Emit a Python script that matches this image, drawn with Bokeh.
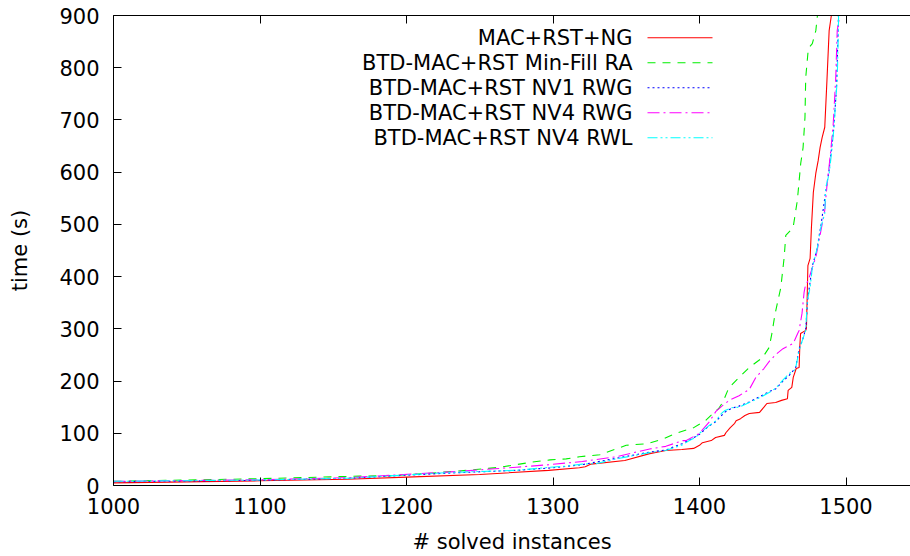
from bokeh.plotting import figure
from bokeh.models import Range1d, LinearAxis, FixedTicker, Label
from bokeh.embed import file_html
from bokeh.resources import INLINE

# ---- data ----
ng_x = [1000, 1050, 1100, 1160, 1200, 1250, 1297, 1318, 1322, 1326, 1349, 1366, 1377, 1388, 1396,
        1400, 1402, 1408, 1411, 1417, 1418, 1421, 1424, 1425, 1428, 1431, 1434, 1441, 1444, 1446,
        1452, 1456, 1460, 1460.5, 1463, 1464, 1466, 1468, 1468.5, 1469, 1472.5, 1473, 1474, 1475.5,
        1476.4, 1477.7, 1479.4, 1481, 1482.3, 1483.7, 1485.5, 1487, 1488.5, 1490, 1490.5]
ng_y = [5, 7, 9, 12, 16, 21, 29, 34, 36, 41, 48, 61, 67, 69, 71,
        77, 82, 86, 92, 96, 101, 111, 119, 124, 128, 134, 138, 140, 150, 157,
        159, 163, 166, 182, 188, 207, 224, 226, 268, 291, 297, 301, 421, 435,
        494, 561, 598, 622, 647, 666, 686, 776, 871, 900, 950]

mf_x = [1000, 1100, 1168, 1191, 1218, 1241, 1264, 1286, 1298, 1309, 1318, 1332, 1350, 1364, 1375,
        1384, 1393, 1395, 1404, 1411, 1413, 1416, 1420, 1427, 1434, 1443, 1447.5, 1449.4, 1451.6,
        1455.5, 1457.8, 1458.9, 1463.9, 1466.8, 1469.1, 1470.7, 1472, 1472.5, 1474.3, 1477, 1479.4,
        1480.5, 1481]
mf_y = [8, 13, 18, 19, 24, 29, 35, 45, 49, 51, 55, 59, 77, 80, 89,
        100, 108, 109, 124, 143, 147, 160, 187, 207, 226, 245, 264, 291, 329,
        379, 437, 479, 494, 546, 617, 647, 705, 781, 837, 846, 871,
        900, 950]

nv1g_x = [1000, 1100, 1161, 1230, 1275, 1300, 1320, 1343, 1366, 1377, 1388, 1395, 1400, 1406, 1411,
          1417, 1422, 1427, 1434, 1441, 1447, 1452, 1457, 1461, 1465.7, 1468, 1470.5, 1472.5, 1474,
          1477, 1480, 1483, 1486, 1488.5, 1491.5, 1493.5, 1494.6, 1495.2]
nv1g_y = [7, 10, 14, 24, 29, 34, 40, 52, 64, 68, 80, 90, 98, 113, 122,
          140, 148, 152, 160, 170, 179, 185, 200, 210, 226, 262, 280, 300, 360,
          420, 450, 500, 560, 605, 680, 760, 870, 950]

nv4g_x = [1000, 1100, 1161, 1230, 1275, 1298, 1320, 1343, 1366, 1377, 1388.5, 1391, 1400, 1406.7,
          1411.2, 1415.7, 1420.3, 1427, 1434, 1438.5, 1444, 1448, 1453, 1457, 1464, 1467, 1468,
          1470, 1471.4, 1472, 1474.8, 1479.4, 1481.6, 1485.5, 1486.9, 1489.6, 1491.3, 1493, 1494,
          1495.7, 1496]
nv4g_y = [8, 11, 15, 26, 35, 40, 46, 55, 70, 75, 86, 86, 100, 122,
          142, 153, 163, 172, 184, 207, 224, 239, 253, 262, 272, 291, 297,
          330, 370, 379, 398, 437, 469, 527, 571, 641, 693, 781, 871,
          900, 950]

nv4l_x = [1000, 1100, 1161, 1230, 1275, 1298, 1309, 1320, 1330, 1343, 1366, 1377, 1388.5, 1393,
          1397.6, 1400, 1406.7, 1411.2, 1415, 1417, 1422, 1427, 1434, 1441, 1447.5, 1452, 1456.6,
          1461, 1464.6, 1465.7, 1468, 1470.2, 1472.5, 1473.6, 1475.5, 1477, 1480.5, 1482.8, 1485.5,
          1486.2, 1488.5, 1490.3, 1491.8, 1493, 1494, 1494.8, 1495.2]
nv4l_y = [8, 10.5, 14, 25, 29, 35, 37, 41, 42, 51, 63, 67, 78, 86,
          92.5, 100, 115, 124, 138, 143, 149, 150, 159, 168, 178, 186, 201,
          214, 220, 226, 258, 278, 297, 354, 379, 417, 456, 494, 521,
          571, 597, 641, 686, 737, 776, 871, 950]

series_names = ["MAC+RST+NG", "BTD-MAC+RST Min-Fill RA", "BTD-MAC+RST NV1 RWG",
                "BTD-MAC+RST NV4 RWG", "BTD-MAC+RST NV4 RWL"]
x_ticks = [1000, 1100, 1200, 1300, 1400, 1500]
y_ticks = [0, 100, 200, 300, 400, 500, 600, 700, 800, 900]

# ---- styling ----
FONT = "DejaVu Sans"
FS = "21px"
colors = ["#ff0000", "#00f000", "#0000ff", "#ff00ff", "#00ffff"]
dashes = ["solid", "8 7", "2 3", "12 4 2 4", "10 3 2 3 2 3"]

W, H = 910, 556
ML, MT, MB = 113, 15, 71
FW, FH = W - ML, H - MT - MB
X0, X1 = 1000, 1000 + FW / 1.465
Y0, Y1 = 0, 900

p = figure(width=W, height=H, x_range=Range1d(X0, X1), y_range=Range1d(Y0, Y1),
           output_backend="svg", toolbar_location=None,
           min_border_left=ML, min_border_right=0, min_border_top=MT, min_border_bottom=MB)
p.outline_line_color = None
p.grid.visible = False
p.background_fill_color = "white"
p.border_fill_color = "white"

for ax in (p.xaxis[0], p.yaxis[0]):
    ax.major_tick_in = 8
    ax.major_tick_out = 0
    ax.minor_tick_line_color = None
    ax.axis_line_color = "black"
    ax.major_tick_line_color = "black"
    ax.major_label_text_font = FONT
    ax.major_label_text_font_size = FS
    ax.major_label_text_color = "black"
    ax.axis_label_text_font = FONT
    ax.axis_label_text_font_size = FS
    ax.axis_label_text_font_style = "normal"
    ax.axis_label_text_color = "black"

p.xaxis[0].ticker = FixedTicker(ticks=x_ticks)
p.yaxis[0].ticker = FixedTicker(ticks=y_ticks)
p.xaxis[0].major_label_standoff = 12
p.xaxis[0].axis_label = "# solved instances"
p.xaxis[0].axis_label_standoff = 13
p.yaxis[0].major_label_standoff = 14
p.yaxis[0].axis_label = "time (s)"
p.yaxis[0].axis_label_standoff = 24

top = LinearAxis(ticker=FixedTicker(ticks=x_ticks), major_tick_in=8, major_tick_out=0,
                 minor_tick_line_color=None, major_label_standoff=0,
                 major_label_overrides={t: "" for t in x_ticks},
                 axis_line_color="black", major_tick_line_color="black")
p.add_layout(top, "above")

xs_all = [ng_x, mf_x, nv1g_x, nv4g_x, nv4l_x]
ys_all = [ng_y, mf_y, nv1g_y, nv4g_y, nv4l_y]
for xs, ys, c, d in zip(xs_all, ys_all, colors, dashes):
    p.line(xs, ys, line_color=c, line_width=1.1, line_dash=d)

# manual legend: text right-aligned, sample line on the right
text_right = 519
row0 = FH - 22.3
row_step = 25
samp_l, samp_r = 534, 599
for i, (name, c, d) in enumerate(zip(series_names, colors, dashes)):
    ys = row0 - i * row_step
    p.add_layout(Label(x=text_right, y=ys, x_units="screen", y_units="screen", text=name,
                       text_align="right", text_baseline="middle", text_font=FONT,
                       text_font_size=FS, text_color="black"))
    lx = [X0 + samp_l / FW * (X1 - X0), X0 + samp_r / FW * (X1 - X0)]
    ly = [Y0 + ys / FH * (Y1 - Y0)] * 2
    p.line(lx, ly, line_color=c, line_width=1.1, line_dash=d)

open("out.html", "w").write(file_html(p, INLINE))
